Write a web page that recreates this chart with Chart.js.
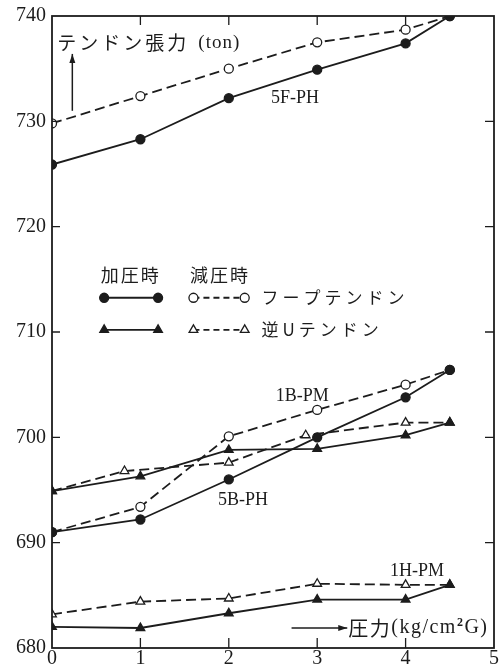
<!DOCTYPE html>
<html>
<head>
<meta charset="utf-8">
<script src="https://cdn.jsdelivr.net/npm/chart.js@4/dist/chart.umd.min.js"></script>
<style>
  html, body { margin: 0; padding: 0; background: #fff; }
  canvas { display: block; }
</style>
</head>
<body>
<canvas id="myChart" width="502" height="670"></canvas>
<script>
// pressure steps (kg/cm2G)
const pressure = [0, 1, 2, 3, 4, 4.5];
const pressureUDown = [0, 0.82, 2, 2.87, 4, 4.5];

// tendon tension (ton)
const f5Load   = [725.9, 728.3, 732.2, 734.9, 737.4, 740.0];
const f5Unload = [729.8, 732.4, 735.0, 737.5, 738.7, 740.0];
const bHoopLoad   = [691.0, 692.2, 696.0, 700.0, 703.8, 706.4];
const bHoopUnload = [691.0, 693.4, 700.1, 702.6, 705.0, 706.4];
const bULoad   = [694.9, 696.3, 698.8, 698.9, 700.2, 701.4];
const bUUnload = [694.9, 696.8, 697.6, 700.2, 701.4, 701.4];
const h1Load   = [682.0, 681.9, 683.3, 684.6, 684.6, 686.0];
const h1Unload = [683.2, 684.4, 684.7, 686.1, 686.0, 686.0];

const xTicks = [0, 1, 2, 3, 4, 5];
const yTicks = [680, 690, 700, 710, 720, 730, 740];

const INK = '#1c1c1c';
const SERIF = '"Liberation Serif", "DejaVu Serif", serif';
const JP = '"Noto Sans CJK JP", "Noto Sans", sans-serif';

function pts(xs, ys) {
    return ys.map((y, i) => ({ x: xs[i], y: y }));
}

function series(xs, ys, loading, style) {
    return {
        data: pts(xs, ys),
        borderColor: INK,
        borderWidth: 1.8,
        borderDash: loading ? [] : [10, 5],
        pointStyle: style,
        pointRadius: style === 'triangle' ? 5 : 4.5,
        pointBackgroundColor: loading ? INK : '#fff',
        pointBorderColor: INK,
        pointBorderWidth: 1.3,
        tension: 0,
        fill: false
    };
}

const datasets = [
    series(pressure, f5Load, true, 'circle'),
    series(pressure, f5Unload, false, 'circle'),
    series(pressure, bHoopLoad, true, 'circle'),
    series(pressure, bHoopUnload, false, 'circle'),
    series(pressure, bULoad, true, 'triangle'),
    series(pressureUDown, bUUnload, false, 'triangle'),
    series(pressure, h1Load, true, 'triangle'),
    series(pressure, h1Unload, false, 'triangle')
];

// text placed in data coordinates
const notes = [
    { text: '5F-PH', x: 2.75, y: 732.2 },
    { text: '1B-PM', x: 2.83, y: 703.9 },
    { text: '5B-PH', x: 2.16, y: 694.0 },
    { text: '1H-PM', x: 4.13, y: 687.3 }
];

function marker(ctx, style, filled, x, y) {
    ctx.save();
    ctx.fillStyle = filled ? INK : '#fff';
    ctx.strokeStyle = INK;
    ctx.lineWidth = 1.3;
    ctx.setLineDash([]);
    Chart.helpers.drawPoint(ctx, {
        pointStyle: style,
        radius: style === 'triangle' ? 5 : 4.5,
        rotation: 0,
        borderWidth: 1.3
    }, x, y);
    ctx.restore();
}

function arrow(ctx, x1, y1, x2, y2) {
    const a = Math.atan2(y2 - y1, x2 - x1);
    ctx.beginPath();
    ctx.moveTo(x1, y1);
    ctx.lineTo(x2, y2);
    ctx.stroke();
    ctx.beginPath();
    ctx.moveTo(x2, y2);
    ctx.lineTo(x2 - 9 * Math.cos(a) + 3 * Math.sin(a), y2 - 9 * Math.sin(a) - 3 * Math.cos(a));
    ctx.lineTo(x2 - 9 * Math.cos(a) - 3 * Math.sin(a), y2 - 9 * Math.sin(a) + 3 * Math.cos(a));
    ctx.closePath();
    ctx.fill();
}

const decor = {
    id: 'decor',
    afterDraw(chart) {
        const ctx = chart.ctx;
        const area = chart.chartArea;
        const sx = chart.scales.x, sy = chart.scales.y;
        const px = v => sx.getPixelForValue(v);
        const py = v => sy.getPixelForValue(v);

        ctx.save();
        ctx.strokeStyle = INK;
        ctx.fillStyle = INK;
        ctx.lineWidth = 1.8;
        ctx.setLineDash([]);
        ctx.strokeRect(area.left, area.top, area.right - area.left, area.bottom - area.top);

        // tick marks, all pointing inward
        ctx.lineWidth = 1.3;
        ctx.beginPath();
        xTicks.slice(1, -1).forEach(v => {
            const x = px(v);
            ctx.moveTo(x, area.bottom); ctx.lineTo(x, area.bottom - 10);
            ctx.moveTo(x, area.top); ctx.lineTo(x, area.top + 9);
        });
        yTicks.slice(1, -1).forEach(v => {
            const y = py(v);
            ctx.moveTo(area.left, y); ctx.lineTo(area.left + 8, y);
            ctx.moveTo(area.right, y); ctx.lineTo(area.right - 9, y);
        });
        ctx.stroke();

        // annotations
        ctx.textBaseline = 'middle';
        ctx.textAlign = 'center';
        ctx.font = '18px ' + SERIF;
        notes.forEach(n => ctx.fillText(n.text, px(n.x), py(n.y)));

        // y title with arrow
        ctx.textAlign = 'left';
        ctx.font = '19px ' + JP;
        ctx.letterSpacing = '3px';
        ctx.fillText('テンドン張力', px(0.06), py(737.45));
        ctx.letterSpacing = '1px';
        ctx.font = '19px ' + SERIF;
        ctx.fillText('(ton)', px(0.06) + 141, py(737.45));
        ctx.letterSpacing = '0px';
        ctx.lineWidth = 1.5;
        arrow(ctx, px(0.23), py(731.0), px(0.23), py(736.4));

        // x title with arrow
        arrow(ctx, px(2.71), py(681.9), px(3.34), py(681.9));
        let tx = px(3.34) + 1;
        const ty = py(681.9);
        ctx.font = '20px ' + JP;
        ctx.letterSpacing = '1.5px';
        ctx.fillText('圧力', tx, ty);
        tx += ctx.measureText('圧力').width;
        ctx.font = '20px ' + SERIF;
        ctx.fillText('(kg/cm', tx, ty);
        tx += ctx.measureText('(kg/cm').width;
        ctx.font = 'bold 12px ' + SERIF;
        ctx.fillText('2', tx, ty - 5);
        tx += ctx.measureText('2').width;
        ctx.font = '20px ' + SERIF;
        ctx.fillText('G)', tx, ty);
        ctx.letterSpacing = '0px';

        // legend
        ctx.font = '18px ' + JP;
        ctx.textAlign = 'center';
        ctx.letterSpacing = '2px';
        ctx.fillText('加圧時', px(0.89), py(715.4));
        ctx.fillText('減圧時', px(1.9), py(715.4));
        ctx.letterSpacing = '0px';
        const rows = [
            { y: 713.25, style: 'circle', text: 'フープテンドン' },
            { y: 710.2, style: 'triangle', text: '逆Uテンドン' }
        ];
        rows.forEach(r => {
            const y = py(r.y);
            ctx.lineWidth = 1.8;
            ctx.setLineDash([]);
            ctx.beginPath(); ctx.moveTo(px(0.59), y); ctx.lineTo(px(1.2), y); ctx.stroke();
            ctx.setLineDash([6, 4]);
            ctx.beginPath(); ctx.moveTo(px(1.6), y); ctx.lineTo(px(2.18), y); ctx.stroke();
            ctx.setLineDash([]);
            marker(ctx, r.style, true, px(0.59), y);
            marker(ctx, r.style, true, px(1.2), y);
            marker(ctx, r.style, false, px(1.6), y);
            marker(ctx, r.style, false, px(2.18), y);
            ctx.fillStyle = INK;
            ctx.textAlign = 'left';
            ctx.font = '17px ' + JP;
            ctx.letterSpacing = '4px';
            ctx.fillText(r.text, px(2.37), y);
            ctx.letterSpacing = '0px';
        });
        ctx.restore();
    }
};

const myChart = new Chart(document.getElementById('myChart').getContext('2d'), {
    type: 'line',
    data: { datasets: datasets },
    options: {
        responsive: false,
        animation: false,
        layout: { padding: { top: 15, right: 8, left: 0, bottom: 0 } },
        plugins: { legend: { display: false }, tooltip: { enabled: false } },
        scales: {
            x: {
                type: 'linear',
                min: 0, max: 5,
                afterFit: s => { s.height = 22; },
                afterBuildTicks: s => { s.ticks = xTicks.map(v => ({ value: v })); },
                grid: { display: false, drawTicks: false },
                border: { display: false },
                ticks: { color: INK, padding: 1, font: { family: SERIF, size: 20, lineHeight: 1 } }
            },
            y: {
                type: 'linear',
                min: 680, max: 740,
                afterFit: s => { s.width = 52; },
                afterBuildTicks: s => { s.ticks = yTicks.map(v => ({ value: v })); },
                grid: { display: false, drawTicks: false },
                border: { display: false },
                ticks: { color: INK, padding: 6, font: { family: SERIF, size: 20, lineHeight: 1 } }
            }
        }
    },
    plugins: [decor]
});
</script>
</body>
</html>
